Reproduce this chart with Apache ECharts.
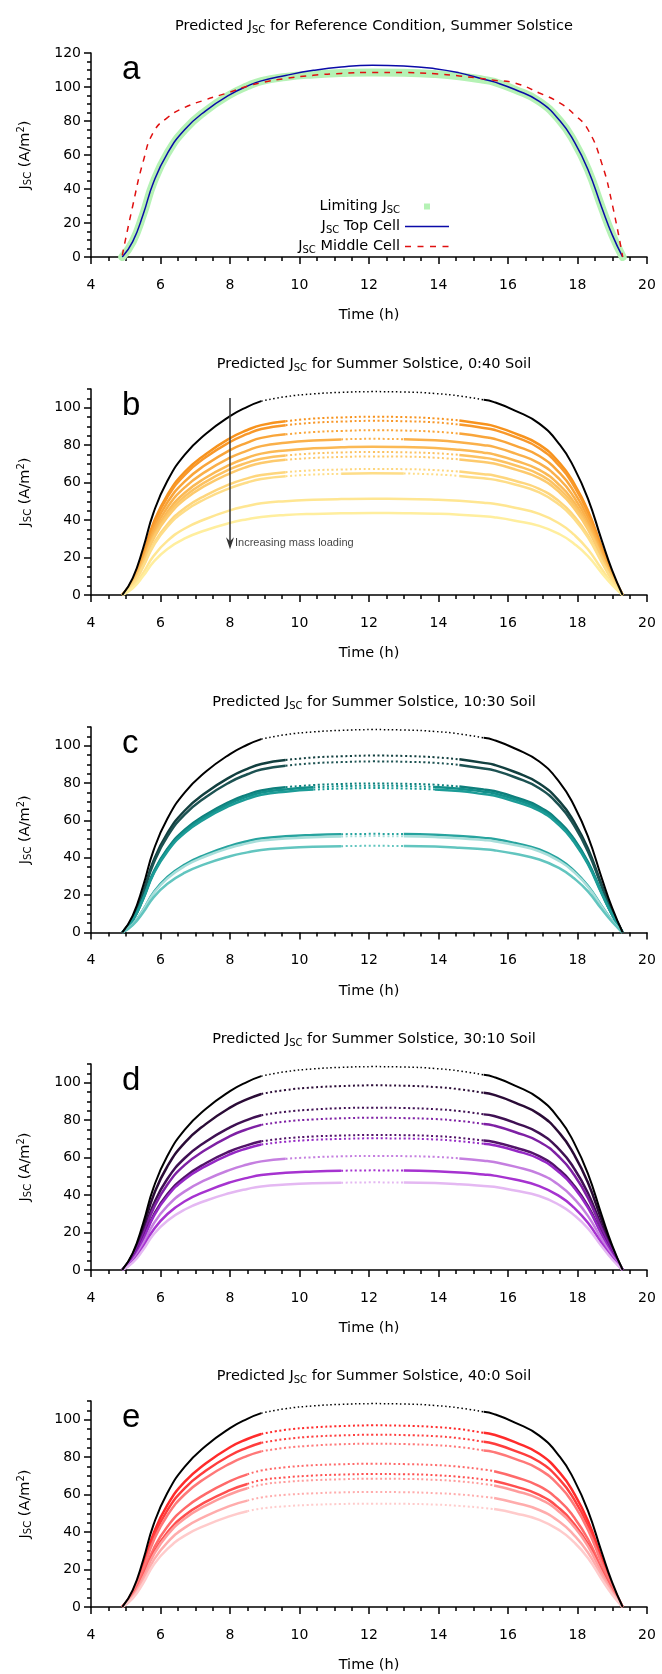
<!DOCTYPE html>
<html>
<head>
<meta charset="UTF-8">
<title>Predicted JSC, Summer Solstice</title>
<style>
  html, body { margin: 0; padding: 0; background: #fff; }
  #chart { width: 662px; height: 1674px; }
</style>
<script src="https://cdn.jsdelivr.net/npm/echarts@6/dist/echarts.min.js"></script>
</head>
<body>
<div id="chart"></div>
<script>
// time of day (h), shared by every curve
var hours = [4.9, 5.2, 5.5, 5.8, 6.2, 6.7, 7.3, 8, 8.5, 8.9, 9.6, 10.4, 11.2, 12.1, 13, 13.9, 14.6, 15.3, 15.6, 16.2, 16.9, 17.5, 17.9, 18.3, 18.7, 19.0, 19.3];

// panel a
var limitingJsc = [0, 9, 25, 44, 61, 75, 86, 95.5, 100.5, 103.5, 105.9, 107.4, 108.2, 108.6, 108.4, 107.6, 106.3, 104.2, 103, 98.5, 91.5, 80, 68, 51.5, 29, 13, 0];
var topCellJsc = [0, 9, 25, 44, 61, 75, 86, 95.5, 100.5, 103.6, 106.8, 109.8, 111.8, 112.8, 112.4, 110.8, 108.3, 104.6, 103, 98.5, 91.5, 80, 68, 51.5, 29, 13, 0];
var middleCellJsc = [1, 30, 56, 73.5, 82, 88, 92.5, 97, 100.5, 102.5, 105, 106.9, 108, 108.6, 108.5, 107.8, 106.5, 104.8, 104, 102.3, 96.5, 90.5, 84, 75, 55, 31, 0];

// panel b, 0:40 soil
var soil0_40 = [
  [0, 7.9, 21.9, 38.6, 53.5, 65.7, 75.2, 83.7, 88.1, 90.7, 92.8, 94.2, 94.8, 95.2, 95, 94.3, 93.2, 91.3, 90.2, 86.3, 80.3, 70.2, 59.6, 45.1, 25.4, 11.4, 0],
  [0, 7.7, 21.4, 37.7, 52.3, 64.2, 73.5, 81.7, 86, 88.6, 90.7, 92, 92.6, 93, 92.8, 92.2, 91, 89.2, 88.2, 84.4, 78.4, 68.5, 58.2, 44.1, 24.8, 11.2, 0],
  [0, 7.3, 20.2, 35.6, 49.5, 60.7, 69.5, 77.4, 81.4, 83.9, 85.8, 87, 87.6, 88, 87.8, 87.2, 86.2, 84.4, 83.4, 79.8, 74.2, 64.9, 55.1, 41.7, 23.5, 10.6, 0],
  [0, 6.9, 19.2, 33.8, 46.9, 57.5, 65.9, 73.3, 77.1, 79.5, 81.3, 82.5, 83.1, 83.4, 83.2, 82.6, 81.6, 80, 79.1, 75.6, 70.3, 61.5, 52.2, 39.5, 22.3, 10, 0],
  [0, 6.6, 18.2, 32.1, 44.5, 54.6, 62.6, 69.6, 73.3, 75.5, 77.2, 78.3, 78.9, 79.2, 79, 78.5, 77.5, 76, 75.1, 71.8, 66.8, 58.4, 49.6, 37.5, 21.1, 9.5, 0],
  [0, 6.3, 17.6, 30.9, 42.9, 52.7, 60.4, 67.2, 70.7, 72.8, 74.5, 75.6, 76.1, 76.4, 76.2, 75.7, 74.8, 73.3, 72.4, 69.3, 64.4, 56.3, 47.8, 36.2, 20.4, 9.2, 0],
  [0, 6.1, 17, 30, 41.6, 51.1, 58.5, 65, 68.5, 70.5, 72.2, 73.2, 73.7, 74, 73.9, 73.3, 72.4, 71, 70.2, 67.1, 62.4, 54.5, 46.3, 35.1, 19.8, 8.9, 0],
  [0, 5.6, 15.5, 27.3, 37.8, 46.4, 53.2, 59.2, 62.3, 64.1, 65.6, 66.6, 67, 67.3, 67.2, 66.7, 65.9, 64.5, 63.8, 61, 56.7, 49.6, 42.1, 31.9, 18, 8.1, 0],
  [0, 5.4, 15, 26.3, 36.5, 44.9, 51.4, 57.1, 60.1, 61.9, 63.4, 64.3, 64.7, 65, 64.9, 64.4, 63.6, 62.3, 61.6, 59, 54.8, 47.9, 40.7, 30.8, 17.4, 7.8, 0],
  [0, 4.3, 11.8, 20.8, 28.9, 35.5, 40.6, 45.2, 47.5, 49, 50.1, 50.8, 51.2, 51.4, 51.3, 50.9, 50.3, 49.3, 48.7, 46.6, 43.3, 37.9, 32.2, 24.4, 13.7, 6.2, 0],
  [0, 3.6, 10.1, 17.7, 24.6, 30.2, 34.6, 38.5, 40.5, 41.7, 42.7, 43.3, 43.6, 43.8, 43.7, 43.4, 42.9, 42, 41.5, 39.7, 36.9, 32.3, 27.4, 20.8, 11.7, 5.3, 0]
];

// panel c, 10:30 soil
var soil10_30 = [
  [0, 7.9, 21.8, 38.4, 53.2, 65.3, 74.8, 83.2, 87.6, 90.2, 92.3, 93.7, 94.3, 94.7, 94.5, 93.8, 92.7, 90.8, 89.8, 85.9, 79.8, 69.8, 59.3, 44.9, 25.3, 11.4, 0],
  [0, 7.6, 21.1, 37.1, 51.5, 63.2, 72.4, 80.5, 84.7, 87.3, 89.3, 90.6, 91.2, 91.6, 91.4, 90.8, 89.7, 87.8, 86.8, 83.1, 77.2, 67.5, 57.3, 43.4, 24.5, 11, 0],
  [0, 6.6, 18.4, 32.3, 44.8, 55.1, 63, 70.1, 73.8, 76, 77.8, 78.9, 79.5, 79.8, 79.6, 79.1, 78.1, 76.5, 75.7, 72.4, 67.3, 58.8, 50, 37.8, 21.3, 9.6, 0],
  [0, 6.5, 18.1, 31.8, 44.2, 54.2, 62.1, 69.1, 72.7, 74.9, 76.6, 77.7, 78.3, 78.6, 78.4, 77.9, 77, 75.4, 74.5, 71.3, 66.3, 57.9, 49.2, 37.3, 21, 9.4, 0],
  [0, 6.4, 17.8, 31.3, 43.4, 53.3, 61.1, 67.9, 71.5, 73.7, 75.4, 76.5, 77, 77.3, 77.1, 76.6, 75.7, 74.1, 73.3, 70.1, 65.2, 57, 48.4, 36.6, 20.6, 9.3, 0],
  [0, 4.4, 12.1, 21.4, 29.7, 36.4, 41.7, 46.4, 48.8, 50.3, 51.5, 52.2, 52.6, 52.8, 52.7, 52.3, 51.7, 50.6, 50.1, 47.9, 44.5, 38.9, 33.1, 25, 14.1, 6.3, 0],
  [0, 4.3, 11.9, 20.9, 29, 35.6, 40.8, 45.4, 47.7, 49.2, 50.3, 51, 51.4, 51.6, 51.5, 51.1, 50.5, 49.5, 48.9, 46.8, 43.5, 38, 32.3, 24.5, 13.8, 6.2, 0],
  [0, 3.9, 10.7, 18.8, 26.1, 32, 36.7, 40.8, 42.9, 44.2, 45.2, 45.9, 46.2, 46.4, 46.3, 46, 45.4, 44.5, 44, 42.1, 39.1, 34.2, 29, 22, 12.4, 5.6, 0]
];

// panel d, 30:10 soil
var soil30_10 = [
  [0, 8.2, 22.7, 39.9, 55.4, 68, 77.9, 86.7, 91.2, 94, 96.1, 97.5, 98.2, 98.6, 98.4, 97.7, 96.5, 94.6, 93.5, 89.4, 83.1, 72.7, 61.7, 46.7, 26.3, 11.8, 0],
  [0, 7.2, 19.9, 35.1, 48.7, 59.8, 68.5, 76.2, 80.2, 82.6, 84.5, 85.7, 86.4, 86.7, 86.5, 85.9, 84.9, 83.1, 82.2, 78.6, 73.1, 63.9, 54.3, 41.1, 23.1, 10.4, 0],
  [0, 6.7, 18.7, 32.9, 45.7, 56.1, 64.2, 71.5, 75.2, 77.5, 79.3, 80.4, 81, 81.3, 81.1, 80.6, 79.6, 78, 77.1, 73.7, 68.5, 59.9, 50.9, 38.5, 21.7, 9.8, 0],
  [0, 6, 16.6, 29.2, 40.5, 49.7, 57, 63.4, 66.7, 68.7, 70.3, 71.3, 71.8, 72.1, 72, 71.5, 70.6, 69.1, 68.4, 65.4, 60.8, 53.1, 45.1, 34.2, 19.3, 8.7, 0],
  [0, 5.8, 16.2, 28.5, 39.5, 48.5, 55.5, 61.8, 65, 67, 68.5, 69.5, 70, 70.3, 70.2, 69.7, 68.8, 67.4, 66.6, 63.8, 59.3, 51.8, 44, 33.3, 18.8, 8.4, 0],
  [0, 5.1, 14, 24.7, 34.2, 42, 48.1, 53.5, 56.3, 58, 59.4, 60.2, 60.7, 60.9, 60.8, 60.4, 59.6, 58.4, 57.7, 55.2, 51.3, 44.9, 38.1, 28.9, 16.3, 7.3, 0],
  [0, 4.4, 12.2, 21.5, 29.9, 36.7, 42, 46.8, 49.2, 50.7, 51.9, 52.6, 53, 53.2, 53.1, 52.7, 52.1, 51, 50.4, 48.3, 44.8, 39.2, 33.3, 25.2, 14.2, 6.4, 0],
  [0, 3.9, 10.8, 19, 26.3, 32.3, 37, 41.1, 43.3, 44.6, 45.6, 46.3, 46.6, 46.8, 46.7, 46.4, 45.8, 44.9, 44.4, 42.4, 39.5, 34.5, 29.3, 22.2, 12.5, 5.6, 0]
];

// panel e, 40:0 soil
var soil40_0 = [
  [0, 8.1, 22.3, 39.3, 54.5, 66.9, 76.6, 85.3, 89.7, 92.4, 94.6, 95.9, 96.6, 97, 96.8, 96.1, 95, 93, 92, 88, 81.8, 71.5, 60.7, 46, 25.9, 11.6, 0],
  [0, 7.6, 21.2, 37.3, 51.7, 63.5, 72.7, 80.9, 85.1, 87.7, 89.7, 91, 91.6, 92, 91.8, 91.2, 90.1, 88.2, 87.2, 83.4, 77.6, 67.8, 57.6, 43.6, 24.6, 11, 0],
  [0, 7.2, 20.1, 35.3, 49, 60.2, 68.9, 76.6, 80.7, 83.1, 85, 86.2, 86.9, 87.2, 87, 86.4, 85.4, 83.6, 82.7, 79.1, 73.5, 64.3, 54.6, 41.3, 23.3, 10.5, 0],
  [0, 6.3, 17.6, 31, 43, 52.8, 60.4, 67.2, 70.8, 72.9, 74.6, 75.7, 76.2, 76.5, 76.3, 75.8, 74.9, 73.4, 72.5, 69.4, 64.5, 56.4, 47.9, 36.3, 20.4, 9.2, 0],
  [0, 5.9, 16.3, 28.8, 39.9, 49, 56.1, 62.4, 65.7, 67.7, 69.2, 70.2, 70.7, 71, 70.9, 70.4, 69.5, 68.1, 67.3, 64.4, 59.9, 52.3, 44.4, 33.7, 19, 8.5, 0],
  [0, 5.7, 15.8, 27.7, 38.5, 47.3, 54.1, 60.2, 63.4, 65.3, 66.8, 67.7, 68.2, 68.5, 68.4, 67.9, 67.1, 65.7, 64.9, 62.1, 57.7, 50.5, 42.9, 32.5, 18.3, 8.2, 0],
  [0, 5.1, 14.1, 24.9, 34.5, 42.4, 48.5, 54, 56.8, 58.5, 59.9, 60.7, 61.2, 61.4, 61.3, 60.8, 60.1, 58.9, 58.2, 55.7, 51.8, 45.3, 38.4, 29.1, 16.4, 7.4, 0],
  [0, 4.6, 12.7, 22.4, 31, 38.1, 43.6, 48.5, 51.1, 52.6, 53.8, 54.6, 55, 55.2, 55.1, 54.7, 54, 52.9, 52.3, 50.1, 46.5, 40.7, 34.6, 26.2, 14.7, 6.6, 0]
];

// index ranges (into hours) that are drawn dotted
var dottedLimiting = [[9, 17]];
var dotted0_40 = [[[10, 16]], [[10, 16]], [[10, 16]], [[12, 14]], [], [[10, 16]], [[10, 16]], [[10, 16]], [[10, 12], [14, 16]], [], []];
var dotted10_30 = [[[10, 16]], [[10, 16]], [[10, 16]], [[11, 15]], [[11, 15]], [[12, 14]], [[12, 14]], [[12, 14]]];
var dotted30_10 = [[[9, 17]], [[9, 17]], [[9, 17]], [[9, 17]], [[9, 17]], [[10, 16]], [[12, 14]], [[12, 14]]];
var dotted40_0 = [[[9, 17]], [[9, 17]], [[9, 17]], [[8, 18]], [[8, 18]], [[8, 18]], [[8, 18]], [[8, 18]]];

var colors0_40 = ['#f7931e', '#f8982a', '#f9a53a', '#fab04a', '#fbb955', '#fcc262', '#fdca6d', '#fed67d', '#fedd88', '#ffe692', '#ffee9e'];
var colors10_30 = ['#123f3f', '#1c5252', '#0e7f7c', '#128f8a', '#1c9c97', '#26a39e', '#a8deda', '#62c5bf'];
var colors30_10 = ['#2a0b36', '#3f1053', '#7e20a4', '#521369', '#9528c5', '#c57fe0', '#a633d0', '#e4b8f2'];
var colors40_0 = ['#ff2b2b', '#ff3d3d', '#ff7878', '#ff6a6a', '#ff4f4f', '#ff9b9b', '#ffacac', '#ffcbcb'];

// arrow annotation in panel b
var arrowTop = [8, 105.2];
var arrowTip = [8, 27.6];

var FONT = 'DejaVu Sans, Verdana, sans-serif';
var ink = '#000';
var rich = {
  n: { fontFamily: FONT, fontSize: 14.5, fontWeight: 'normal', color: ink },
  s: { fontFamily: FONT, fontSize: 10, fontWeight: 'normal', color: ink, padding: [7, 0, 0, 0] },
  p: { fontFamily: FONT, fontSize: 10, fontWeight: 'normal', color: ink, padding: [0, 0, 8, 0] }
};

var gridTop = [53, 389, 727, 1064, 1401];
var gridH = [204, 206, 205.5, 206, 206];
var titleTop = [13, 351, 689, 1026, 1363];
var titleText = [
  '{n|Predicted J}{s|SC}{n| for Reference Condition, Summer Solstice}',
  '{n|Predicted J}{s|SC}{n| for Summer Solstice, 0:40 Soil}',
  '{n|Predicted J}{s|SC}{n| for Summer Solstice, 10:30 Soil}',
  '{n|Predicted J}{s|SC}{n| for Summer Solstice, 30:10 Soil}',
  '{n|Predicted J}{s|SC}{n| for Summer Solstice, 40:0 Soil}'
];
var letters = ['a', 'b', 'c', 'd', 'e'];

var grids = [], xAxes = [], yAxes = [], titles = [], series = [];
var mainY = [];

for (var i = 0; i < 5; i++) {
  grids.push({ left: 91, right: 15, top: gridTop[i], height: gridH[i] });
  titles.push({ text: titleText[i], left: 369, top: titleTop[i], textAlign: 'center',
    textStyle: { fontWeight: 'normal', rich: rich } });
  titles.push({ text: letters[i], left: 117, top: gridTop[i] - 5,
    textStyle: { fontFamily: 'Liberation Sans, Arial, sans-serif', fontSize: 33, fontWeight: 'normal', color: ink, lineHeight: 33 } });
  xAxes.push({
    gridIndex: i, type: 'value', min: 4, max: 20, interval: 2,
    name: 'Time (h)', nameLocation: 'middle', nameGap: 51,
    nameTextStyle: { fontFamily: FONT, fontSize: 14.5, color: ink },
    axisLine: { lineStyle: { color: ink, width: 1.5 } },
    axisTick: { length: 7, lineStyle: { color: ink, width: 1.5 } },
    minorTick: { show: true, splitNumber: 4, length: 4, lineStyle: { color: ink, width: 1.5 } },
    splitLine: { show: false },
    axisLabel: { margin: 21, fontFamily: FONT, fontSize: 14, color: ink }
  });
  var yName = {
    name: '{n|J}{s|SC}{n| (A/m}{p|2}{n|)}', nameLocation: 'middle', nameGap: 57,
    nameTextStyle: { rich: rich }
  };
  if (i === 0) {
    mainY.push(yAxes.length);
    yAxes.push(Object.assign({
      gridIndex: 0, type: 'value', position: 'left', min: 0, max: 120, interval: 20,
      axisLine: { show: true, lineStyle: { color: ink, width: 1.5 } },
      axisTick: { length: 7, lineStyle: { color: ink, width: 1.5 } },
      minorTick: { show: true, splitNumber: 4, length: 4, lineStyle: { color: ink, width: 1.5 } },
      splitLine: { show: false },
      axisLabel: { margin: 10, fontFamily: FONT, fontSize: 14, color: ink }
    }, yName));
  } else {
    mainY.push(yAxes.length);
    yAxes.push(Object.assign({
      gridIndex: i, type: 'value', position: 'left', min: 0, max: 110, interval: 20,
      axisLine: { show: true, lineStyle: { color: ink, width: 1.5 } },
      axisTick: { length: 7, customValues: [0, 20, 40, 60, 80, 100], lineStyle: { color: ink, width: 1.5 } },
      splitLine: { show: false },
      axisLabel: { margin: 10, customValues: [0, 20, 40, 60, 80, 100],
        fontFamily: FONT, fontSize: 14, color: ink }
    }, yName));
    yAxes.push({
      gridIndex: i, type: 'value', position: 'left', offset: 0, min: 0, max: 110, interval: 5,
      axisLine: { show: false },
      axisTick: { show: true, length: 4, customValues: [5, 10, 15, 25, 30, 35, 45, 50, 55, 65, 70, 75, 85, 90, 95, 105, 110],
        lineStyle: { color: ink, width: 1.5 } },
      axisLabel: { show: false },
      splitLine: { show: false }
    });
  }
}

function pairs(vals) {
  return hours.map(function (h, k) { return [h, vals[k]]; });
}

// one curve -> a solid series and a dotted series
function addCurve(panel, vals, dotted, color, width, dotWidth) {
  var solid = [], dots = [];
  hours.forEach(function (h, k) {
    var inside = false, onDot = false;
    dotted.forEach(function (r) {
      if (k > r[0] && k < r[1]) inside = true;
      if (k >= r[0] && k <= r[1]) onDot = true;
    });
    solid.push([h, inside ? null : vals[k]]);
    dots.push([h, onDot ? vals[k] : null]);
  });
  var base = { type: 'line', xAxisIndex: panel, yAxisIndex: mainY[panel], showSymbol: false, symbol: 'none',
    smooth: 0.5, connectNulls: false, silent: true, color: color };
  series.push(Object.assign({}, base, { data: solid, lineStyle: { color: color, width: width } }));
  if (dotted.length) {
    series.push(Object.assign({}, base, { data: dots,
      lineStyle: { color: color, width: dotWidth, type: [dotWidth, 2.6] } }));
  }
}

// panel a
series.push({ name: 'Limiting', type: 'line', xAxisIndex: 0, yAxisIndex: 0, data: pairs(limitingJsc),
  symbol: 'none', smooth: 0.5, color: '#b5f2b5',
  lineStyle: { color: '#b5f2b5', width: 8, cap: 'round' } });
series.push({ name: 'Top', type: 'line', xAxisIndex: 0, yAxisIndex: 0, data: pairs(topCellJsc),
  symbol: 'none', smooth: 0.5, color: '#0a0aa8',
  lineStyle: { color: '#0a0aa8', width: 1.5 } });
series.push({ name: 'Middle', type: 'line', xAxisIndex: 0, yAxisIndex: 0, data: pairs(middleCellJsc),
  symbol: 'none', smooth: 0.5, color: '#e01010',
  lineStyle: { color: '#e01010', width: 1.5, type: [6, 6] } });

var panels = [
  [soil0_40, dotted0_40, colors0_40],
  [soil10_30, dotted10_30, colors10_30],
  [soil30_10, dotted30_10, colors30_10],
  [soil40_0, dotted40_0, colors40_0]
];
panels.forEach(function (p, j) {
  var panel = j + 1;
  p[0].forEach(function (vals, k) {
    addCurve(panel, vals, p[1][k], p[2][k], 2.5, 2);
  });
  addCurve(panel, limitingJsc, dottedLimiting, '#000', 2, 1.5);
});

// arrow and note in panel b
series.push({
  type: 'scatter', xAxisIndex: 1, yAxisIndex: mainY[1], data: [arrowTip], symbolSize: 0,
  itemStyle: { color: 'rgba(0,0,0,0)' }, silent: true,
  label: { show: true, position: 'right', distance: 5, formatter: 'Increasing mass loading',
    fontFamily: 'Liberation Sans, Arial, sans-serif', fontSize: 11, color: '#111' },
  markLine: {
    silent: true, symbol: ['none', 'path://M5,0L10,12L5,8L0,12Z'], symbolSize: [8, 12],
    lineStyle: { color: '#333', width: 1.5, type: 'solid' }, label: { show: false },
    data: [[{ coord: arrowTop }, { coord: arrowTip }]]
  }
});

var chart = echarts.init(document.getElementById('chart'));
chart.setOption({
  animation: false,
  backgroundColor: '#fff',
  title: titles,
  grid: grids,
  xAxis: xAxes,
  yAxis: yAxes,
  legend: {
    orient: 'vertical', align: 'right', right: 208, top: 194,
    itemWidth: 44, itemHeight: 14, itemGap: 4, selectedMode: false,
    textStyle: { rich: rich },
    formatter: function (name) {
      if (name === 'Limiting') return '{n|Limiting J}{s|SC}';
      if (name === 'Top') return '{n|J}{s|SC}{n| Top Cell}';
      return '{n|J}{s|SC}{n| Middle Cell}';
    },
    data: [
      { name: 'Limiting', icon: 'path://M0,0M44,14M19,4h6v6h-6z' },
      { name: 'Top', icon: 'path://M0,0M44,14M0,6.3h44v1.5h-44z' },
      { name: 'Middle', icon: 'path://M0,0M44,14M0,6.3h6v1.5h-6zM12.5,6.3h6v1.5h-6zM25,6.3h6v1.5h-6zM37.5,6.3h6v1.5h-6z' }
    ]
  },
  series: series
});
</script>
</body>
</html>
